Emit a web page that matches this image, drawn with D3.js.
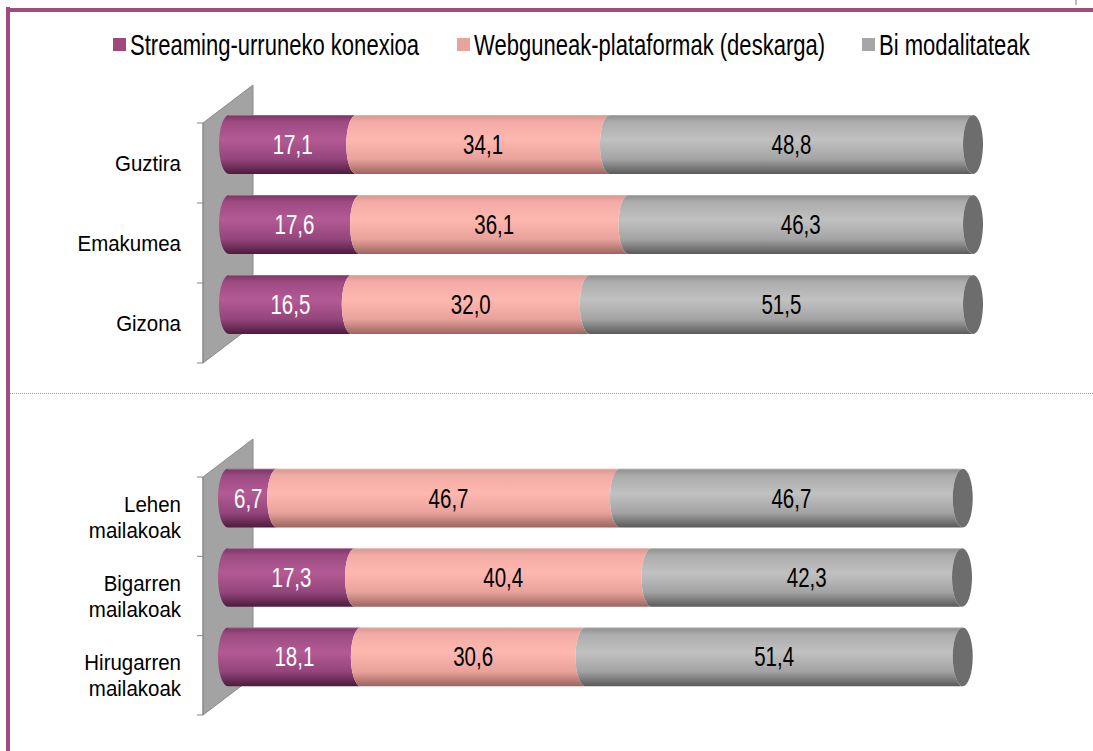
<!DOCTYPE html>
<html>
<head>
<meta charset="utf-8">
<script src="https://cdn.jsdelivr.net/npm/d3@7"></script>
<style>
  body { margin: 0; background: #fff; }
  svg text { font-family: "Liberation Sans", Arial, sans-serif; }
</style>
</head>
<body>
<div id="chart"></div>
<script>

// data
var series = ["Streaming-urruneko konexioa", "Webguneak-plataformak (deskarga)", "Bi modalitateak"];

var cats_1 = ["Guztira", "Emakumea", "Gizona"];
var streaming_1 = [17.1, 17.6, 16.5];
var web_1 = [34.1, 36.1, 32.0];
var bi_1 = [48.8, 46.3, 51.5];

var cats_2 = ["Lehen mailakoak", "Bigarren mailakoak", "Hirugarren mailakoak"];
var streaming_2 = [6.7, 17.3, 18.1];
var web_2 = [46.7, 40.4, 30.6];
var bi_2 = [46.7, 42.3, 51.4];

var width = 1093, height = 751;
var rx = 10;
var narrow = 0.76;   // fake a condensed face

var svg = d3.select("#chart")
    .append("svg")
    .attr("width", width)
    .attr("height", height);

var defs = svg.append("defs");

var grads = [
    {id: "g0", stops: ["#7b3364", "#9d4b83", "#b35a94", "#94457c", "#4d1b3d"]},
    {id: "g1", stops: ["#d6968f", "#f3aca5", "#ffb8b0", "#e9a29b", "#9a655f"]},
    {id: "g2", stops: ["#8e8e8e", "#acacac", "#c1c1c1", "#a3a3a3", "#5a5a5a"]}
];
var offsets = [0, 0.12, 0.42, 0.75, 1];

grads.forEach(function (g) {
    var lg = defs.append("linearGradient")
        .attr("id", g.id)
        .attr("x1", 0).attr("y1", 0)
        .attr("x2", 0).attr("y2", 1);
    g.stops.forEach(function (c, i) {
        lg.append("stop").attr("offset", offsets[i]).attr("stop-color", c);
    });
});

var color = d3.scaleOrdinal()
    .domain(series)
    .range(["#a0477f", "#e8a39b", "#a6a6a6"]);

function place(x, y, sx) {
    return "translate(" + x + "," + y + ") scale(" + (sx || narrow) + ",1)";
}

// frame
svg.append("rect")
    .attr("x", 6).attr("y", 7)
    .attr("width", 4).attr("height", height - 7)
    .style("fill", "#a24b7e");
svg.append("rect")
    .attr("x", 6).attr("y", 8)
    .attr("width", width - 6).attr("height", 4)
    .style("fill", "#a24b7e");
svg.append("line")
    .attr("x1", 1076).attr("x2", 1076)
    .attr("y1", 0).attr("y2", 5)
    .style("stroke", "#777")
    .style("stroke-width", 1);

// separator
svg.append("line")
    .attr("x1", 10).attr("x2", width)
    .attr("y1", 393.5).attr("y2", 393.5)
    .style("stroke", "#9a9a9a")
    .style("stroke-width", 1)
    .style("stroke-dasharray", "1,1");

// legend
var legend_x = [113, 457, 862];
var legend = svg.selectAll("g.legend")
    .data(series)
    .enter()
    .append("g")
    .attr("class", "legend")
    .attr("transform", function (d, i) { return "translate(" + legend_x[i] + ",38)"; });

legend.append("rect")
    .attr("width", 13).attr("height", 13)
    .style("fill", function (d) { return color(d); });

legend.append("text")
    .attr("transform", place(17, 7))
    .attr("dy", "0.35em")
    .style("font-size", "29px")
    .style("fill", "#000")
    .text(function (d) { return d; });


function draw_panel(cats, s0, s1, s2, band_top, band_bottom, x_left, x_right) {

    var rows = cats.map(function (c, i) {
        return {cat: c, vals: [s0[i], s1[i], s2[i]]};
    });

    var yScale = d3.scaleBand()
        .domain(cats)
        .range([band_top, band_bottom])
        .padding(0);

    var xScale = d3.scaleLinear()
        .domain([0, 100])
        .range([x_left, x_right]);

    var depth_x = 50, depth_y = 38;
    var g = svg.append("g");

    // back wall
    var wall_x = 203;
    g.append("path")
        .attr("d", "M" + wall_x + "," + band_top +
            " L" + (wall_x + depth_x) + "," + (band_top - depth_y) +
            " L" + (wall_x + depth_x) + "," + (band_bottom - depth_y) +
            " L" + wall_x + "," + band_bottom + " Z")
        .style("fill", "#a3a3a3")
        .style("stroke", "#8a8a8a")
        .style("stroke-width", 1);

    // axis line + ticks at band edges
    g.append("line")
        .attr("x1", wall_x).attr("x2", wall_x)
        .attr("y1", band_top).attr("y2", band_bottom)
        .style("stroke", "#888");

    var edges = cats.map(function (c) { return yScale(c); }).concat([band_bottom]);
    g.selectAll("line.tick")
        .data(edges)
        .enter()
        .append("line")
        .attr("class", "tick")
        .attr("x1", wall_x - 6).attr("x2", wall_x)
        .attr("y1", function (d) { return d; })
        .attr("y2", function (d) { return d; })
        .style("stroke", "#888");

    // category labels
    var labels = g.selectAll("text.cat")
        .data(rows)
        .enter()
        .append("text")
        .attr("class", "cat")
        .attr("text-anchor", "end")
        .attr("transform", function (d) {
            return place(181, yScale(d.cat) + yScale.bandwidth() / 2, 0.91);
        })
        .style("font-size", "22.5px")
        .style("fill", "#000");

    labels.each(function (d) {
        var words = d.cat.split(" ");
        var t = d3.select(this);
        words.forEach(function (w, k) {
            t.append("tspan")
                .attr("x", 0)
                .attr("y", (k - (words.length - 1) / 2) * 26)
                .attr("dy", "0.35em")
                .text(w);
        });
    });

    // cylinders
    var bar_h = yScale.bandwidth() * 0.74;
    var shift = -18.5;

    var bar_rows = g.selectAll("g.bar-row")
        .data(rows)
        .enter()
        .append("g")
        .attr("class", "bar-row");

    bar_rows.each(function (d) {
        var row = d3.select(this);
        var top = yScale(d.cat) + (yScale.bandwidth() - bar_h) / 2 + shift;
        var bottom = top + bar_h;
        var ry = bar_h / 2;
        var acc = 0;
        var segs = d.vals.map(function (v, i) {
            var s = {i: i, v: v, x0: xScale(acc), x1: xScale(acc + v)};
            acc += v;
            return s;
        });

        // each segment: convex left end, concave right end (hidden under the next one)
        segs.forEach(function (s) {
            var path = "M" + s.x0 + "," + top +
                " A" + rx + "," + ry + " 0 0 0 " + s.x0 + "," + bottom +
                " L" + s.x1 + "," + bottom +
                " A" + rx + "," + ry + " 0 0 1 " + s.x1 + "," + top + " Z";
            row.append("path")
                .attr("d", path)
                .style("fill", "url(#" + grads[s.i].id + ")");
        });

        // end cap
        var last = segs[segs.length - 1];
        row.append("ellipse")
            .attr("cx", last.x1)
            .attr("cy", (top + bottom) / 2)
            .attr("rx", rx)
            .attr("ry", ry)
            .style("fill", "#6d6d6d");

        // top highlight
        row.append("line")
            .attr("x1", xScale(0)).attr("x2", last.x1)
            .attr("y1", top + 0.5).attr("y2", top + 0.5)
            .style("stroke", "#ffffff")
            .style("stroke-opacity", 0.25);

        // value labels
        row.selectAll("text.val")
            .data(segs)
            .enter()
            .append("text")
            .attr("class", "val")
            .attr("transform", function (s) {
                var cx = (s.x0 + s.x1) / 2;
                if (s.i === 0 && s.v < 10) cx = s.x0 + 6;
                return place(cx, (top + bottom) / 2);
            })
            .attr("dy", "0.35em")
            .attr("text-anchor", function (s) { return (s.i === 0 && s.v < 10) ? "start" : "middle"; })
            .style("font-size", "27px")
            .style("fill", function (s) { return s.i === 0 ? "#ffffff" : "#000000"; })
            .text(function (s) { return d3.format(".1f")(s.v).replace(".", ","); });
    });
}

draw_panel(cats_1, streaming_1, web_1, bi_1, 123, 363, 229, 973);
draw_panel(cats_2, streaming_2, web_2, bi_2, 477, 715, 228, 962);

</script>
</body>
</html>
